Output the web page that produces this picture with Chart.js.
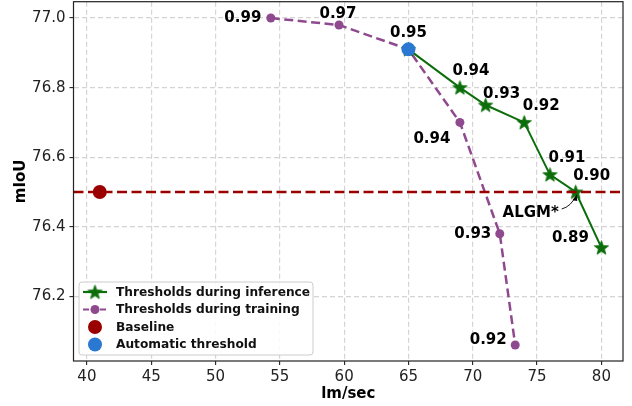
<!DOCTYPE html>
<html>
<head>
<meta charset="utf-8">
<script src="https://cdn.jsdelivr.net/npm/chart.js@4.4.0/dist/chart.umd.min.js"></script>
<style>html,body{margin:0;padding:0;background:#fff}</style>
</head>
<body>
<canvas id="chart" width="632" height="406"></canvas>
<script>
// data
const inferFps = [65, 69, 71, 74, 76, 78, 80];
const inferMiou = [76.91, 76.80, 76.75, 76.70, 76.55, 76.50, 76.34];
const inferLabels = ['', '0.94', '0.93', '0.92', '0.91', '0.90', '0.89'];

const trainFps = [54.3, 59.6, 65, 69, 72.1, 73.3];
const trainMiou = [77.00, 76.98, 76.91, 76.70, 76.38, 76.06];
const trainLabels = ['0.99', '0.97', '', '0.94', '0.93', '0.92'];

const baselineFps = [41];
const baselineMiou = [76.5];
const autoFps = [65];
const autoMiou = [76.91];
const autoLabels = ['0.95'];

const xTicks = [40, 45, 50, 55, 60, 65, 70, 75, 80];
const yTicks = [76.2, 76.4, 76.6, 76.8, 77.0];
const xRange = [38.96, 81.68];
const yRange = [76.014, 77.047];

// label placement (pixel offsets from the point)
const inferOffsets = [null, [11, -17], [16, -11], [17, -16], [17, -16], [16, -16], [-31, -10]];
const trainOffsets = [[-28, 0], [-1, -11], null, [-28, 17], [-27, 0], [-27, -5]];
const autoOffsets = [[0, -16]];

const GREEN = '#0b6e0b';
const PURPLE = '#8f4a8f';
const RED = '#9a0000';
const BLUE = '#2a78d2';
const FONT = '"DejaVu Sans", sans-serif';

function makeStar(r) {
    const c = document.createElement('canvas');
    const s = Math.ceil(r * 2 + 2);
    c.width = s; c.height = s;
    const g = c.getContext('2d');
    g.translate(s / 2, s / 2 + 0.6);
    g.beginPath();
    for (let i = 0; i < 10; i++) {
        const rad = i % 2 === 0 ? r : r * 0.42;
        const a = -Math.PI / 2 + i * Math.PI / 5;
        g.lineTo(rad * Math.cos(a), rad * Math.sin(a));
    }
    g.closePath();
    g.fillStyle = GREEN;
    g.fill();
    g.lineWidth = 0.8;
    g.strokeStyle = GREEN;
    g.stroke();
    return c;
}
const star = makeStar(7.5);

const pts = (xs, ys) => xs.map((x, i) => ({x: x, y: ys[i]}));

const legendItems = [
    {text: 'Thresholds during inference', type: 'star', color: GREEN, dash: []},
    {text: 'Thresholds during training', type: 'circle', r: 4.5, color: PURPLE, dash: [6, 2.5]},
    {text: 'Baseline', type: 'dot', r: 7, color: RED},
    {text: 'Automatic threshold', type: 'dot', r: 7, color: BLUE}
];

const decor = {
    id: 'decor',
    afterDraw(chart) {
        const ctx = chart.ctx;
        const a = chart.chartArea;
        const xs = chart.scales.x, ys = chart.scales.y;
        ctx.save();

        // frame
        ctx.strokeStyle = '#222';
        ctx.lineWidth = 1.2;
        ctx.setLineDash([]);
        ctx.strokeRect(a.left, a.top, a.right - a.left, a.bottom - a.top);

        // point labels
        ctx.fillStyle = '#000';
        ctx.font = 'bold 15px ' + FONT;
        ctx.textAlign = 'center';
        ctx.textBaseline = 'middle';
        const put = (xsArr, ysArr, labels, offs) => {
            labels.forEach((t, i) => {
                if (!t || !offs[i]) return;
                const px = xs.getPixelForValue(xsArr[i]);
                const py = ys.getPixelForValue(ysArr[i]);
                ctx.fillText(t, px + offs[i][0], py + offs[i][1]);
            });
        };
        put(inferFps, inferMiou, inferLabels, inferOffsets);
        put(trainFps, trainMiou, trainLabels, trainOffsets);
        put(autoFps, autoMiou, autoLabels, autoOffsets);

        // ALGM* annotation
        const ax = xs.getPixelForValue(inferFps[5]);
        const ay = ys.getPixelForValue(inferMiou[5]);
        ctx.fillText('ALGM*', ax - 45, ay + 21);
        const sx = ax - 14, sy = ay + 17, ex = ax + 1, ey = ay + 3;
        ctx.strokeStyle = '#000';
        ctx.lineWidth = 0.9;
        ctx.beginPath();
        ctx.moveTo(sx, sy);
        ctx.quadraticCurveTo(sx + 9, sy - 2, ex, ey);
        ctx.stroke();
        ctx.beginPath();
        ctx.moveTo(ex, ey);
        ctx.lineTo(ex - 4.2, ey + 5.2);
        ctx.lineTo(ex + 0.6, ey + 6.0);
        ctx.closePath();
        ctx.fillStyle = '#000';
        ctx.fill();

        // axis titles
        ctx.font = 'bold 15px ' + FONT;
        ctx.fillStyle = '#000';
        ctx.fillText('lm/sec', (a.left + a.right) / 2, 394);
        ctx.save();
        ctx.translate(21, (a.top + a.bottom) / 2);
        ctx.rotate(-Math.PI / 2);
        ctx.fillText('mIoU', 0, 0);
        ctx.restore();

        // legend
        const bx = 79, by = 282, bw = 234, bh = 73;
        ctx.beginPath();
        ctx.roundRect(bx, by, bw, bh, 3);
        ctx.fillStyle = 'rgba(255,255,255,0.85)';
        ctx.fill();
        ctx.strokeStyle = '#cccccc';
        ctx.lineWidth = 1;
        ctx.stroke();
        ctx.font = 'bold 12.2px ' + FONT;
        ctx.textAlign = 'left';
        legendItems.forEach((it, i) => {
            const cy = 292 + i * 17.5;
            const mx = 95;
            if (it.type !== 'dot') {
                ctx.strokeStyle = it.color;
                ctx.lineWidth = 2.2;
                ctx.setLineDash(it.dash);
                ctx.beginPath();
                ctx.moveTo(83, cy);
                ctx.lineTo(107, cy);
                ctx.stroke();
                ctx.setLineDash([]);
            }
            if (it.type === 'star') {
                ctx.drawImage(star, mx - star.width / 2, cy - star.height / 2);
            } else {
                ctx.beginPath();
                ctx.arc(mx, cy, it.r, 0, Math.PI * 2);
                ctx.fillStyle = it.color;
                ctx.fill();
            }
            ctx.fillStyle = '#111';
            ctx.fillText(it.text, 116, cy + 0.5);
        });
        ctx.restore();
    }
};

new Chart(document.getElementById('chart'), {
    type: 'line',
    data: {
        datasets: [
            {
                label: 'Automatic threshold',
                data: pts(autoFps, autoMiou),
                showLine: false,
                pointRadius: 7,
                pointBackgroundColor: BLUE,
                pointBorderColor: BLUE,
                pointBorderWidth: 0,
                order: 0
            },
            {
                label: 'Baseline',
                data: pts(baselineFps, baselineMiou),
                showLine: false,
                pointRadius: 7,
                pointBackgroundColor: RED,
                pointBorderColor: RED,
                pointBorderWidth: 0,
                order: 1
            },
            {
                label: 'baseline level',
                data: [{x: xRange[0], y: baselineMiou[0]}, {x: xRange[1], y: baselineMiou[0]}],
                borderColor: RED,
                borderWidth: 2.6,
                borderDash: [10, 4.5],
                pointRadius: 0,
                order: 2
            },
            {
                label: 'Thresholds during inference',
                data: pts(inferFps, inferMiou),
                borderColor: GREEN,
                borderWidth: 2,
                pointStyle: star,
                pointRadius: 7,
                order: 3
            },
            {
                label: 'Thresholds during training',
                data: pts(trainFps, trainMiou),
                borderColor: PURPLE,
                borderWidth: 2.5,
                borderDash: [9, 4.5],
                pointRadius: 4.5,
                pointBackgroundColor: PURPLE,
                pointBorderWidth: 0,
                order: 4
            }
        ]
    },
    options: {
        responsive: false,
        animation: false,
        devicePixelRatio: 1,
        layout: {autoPadding: false, padding: {top: 1.7, right: 9, left: 0, bottom: 0}},
        plugins: {legend: {display: false}, tooltip: {enabled: false}},
        scales: {
            x: {
                type: 'linear',
                min: xRange[0],
                max: xRange[1],
                afterBuildTicks: s => { s.ticks = xTicks.map(v => ({value: v})); },
                afterFit: s => {
                    s.height = 45;
                    s.paddingLeft = 0;
                    s.paddingRight = 0;
                },
                ticks: {
                    color: '#222',
                    font: {family: FONT, size: 15},
                    padding: 3,
                    maxRotation: 0,
                    callback: v => String(v)
                },
                grid: {
                    color: '#d4d4d4',
                    lineWidth: 1.2,
                    tickLength: 4,
                    tickColor: '#222',
                    tickWidth: 1.1,
                    tickBorderDash: []
                },
                border: {display: false, dash: [5, 3]}
            },
            y: {
                type: 'linear',
                min: yRange[0],
                max: yRange[1],
                afterBuildTicks: s => { s.ticks = yTicks.map(v => ({value: v})); },
                afterFit: s => {
                    s.width = 73.5;
                    s.paddingTop = 0;
                    s.paddingBottom = 0;
                },
                ticks: {
                    color: '#222',
                    font: {family: FONT, size: 15},
                    padding: 4,
                    callback: v => v.toFixed(1)
                },
                grid: {
                    color: '#d4d4d4',
                    lineWidth: 1.2,
                    tickLength: 4,
                    tickColor: '#222',
                    tickWidth: 1.1,
                    tickBorderDash: []
                },
                border: {display: false, dash: [5, 3]}
            }
        }
    },
    plugins: [decor]
});
</script>
</body>
</html>
